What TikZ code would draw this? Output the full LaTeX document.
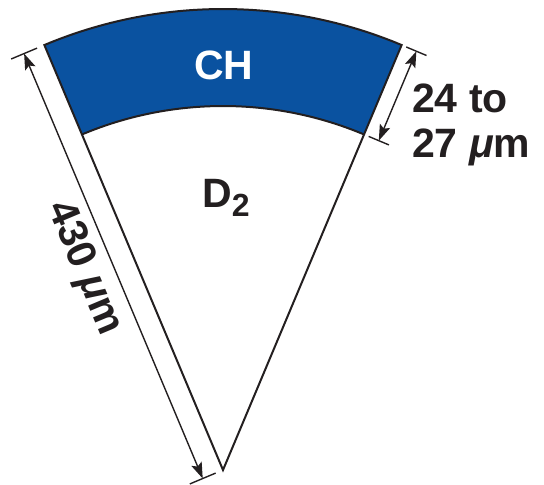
\documentclass[tikz,border=0pt]{standalone}
\usepackage{fontspec}
\setmainfont{Liberation Sans}
\usetikzlibrary{arrows.meta,calc}
\definecolor{chblue}{RGB}{10,82,160}
\definecolor{inkblack}{RGB}{35,31,32}
\tikzset{
  shell/.style={draw=inkblack, line width=2pt},
  dimline/.style={
    {Stealth[length=16pt,width=11pt,inset=3pt]}-{Stealth[length=16pt,width=11pt,inset=3pt]},
    draw=inkblack, line width=1.4pt
  },
  dimtick/.style={draw=inkblack, line width=1.4pt},
  biglabel/.style={font=\fontsize{41}{46}\selectfont\bfseries, inner sep=0pt, text=inkblack}
}

\begin{document}
\begin{tikzpicture}[x=1pt,y=1pt]
  \useasboundingbox (0,0) rectangle (544,485);
  \begin{scope}[shift={(223,15)}]
    % capsule wedge
    \coordinate (apex) at (0,0);
    \coordinate (outL) at (112.8:461);
    \coordinate (outR) at (67.2:461);
    \coordinate (inL) at (112.8:364);
    \coordinate (inR) at (67.2:364);
    \fill[chblue] (outL) arc[start angle=112.8, end angle=67.2, radius=461]
      -- (inR) arc[start angle=67.2, end angle=112.8, radius=364] -- cycle;
    \draw[shell] (apex) -- (outL) arc[start angle=112.8, end angle=67.2, radius=461] -- cycle;
    \draw[shell] (inL) arc[start angle=112.8, end angle=67.2, radius=364];

    % radius dimension
    \draw[dimtick] ($(outL)+(202.8:8)$) -- ($(outL)+(202.8:36)$);
    \draw[dimtick] ($(apex)+(202.8:8)$) -- ($(apex)+(202.8:36)$);
    \coordinate (radTop) at ($(outL)+(202.8:22)$);
    \coordinate (radBot) at ($(apex)+(202.8:22)$);
    \draw[dimline] (radTop) -- node[pos=0.48, sloped, below=9pt, biglabel]
      {430 \textit{μ}m} (radBot);

    % shell thickness dimension
    \draw[dimtick] ($(outR)+(-22.8:5)$) -- ($(outR)+(-22.8:27)$);
    \draw[dimtick] ($(inR)+(-22.8:5)$) -- ($(inR)+(-22.8:27)$);
    \coordinate (thkTop) at ($(outR)+(-22.8:16)$);
    \coordinate (thkBot) at ($(inR)+(-22.8:16)$);
    \draw[dimline] (thkTop) -- (thkBot);
  \end{scope}

  \node[biglabel, text=white] (ch) at (224,420) {CH};
  \node[biglabel, anchor=base west] (fuel) at (202,277)
    {D\raisebox{-9pt}{\fontsize{32}{32}\selectfont\bfseries 2}};
  \node[biglabel, anchor=base west, align=left] (thick) at (412,327)
    {24 to\\[-1pt]27 \textit{μ}m};
\end{tikzpicture}
\end{document}
